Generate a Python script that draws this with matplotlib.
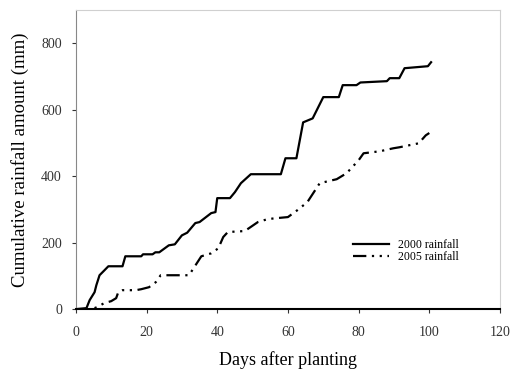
import numpy as np
import matplotlib.pyplot as plt

plt.rcParams['font.family'] = 'Liberation Serif'

####################
# Data
####################
days_2000 = [0, 3, 3.9, 5.3, 5.8, 6.7, 8.1, 9.2, 13.2, 14, 18.5, 19, 21.7, 22.5, 23.6,
             24.5, 26.3, 28, 30, 31.5, 33.8, 35, 38.3, 39.5, 40, 43.6, 45, 46.7, 49.5,
             58, 59.3, 62.4, 64.3, 67, 70, 74.4, 75.5, 79.4, 80.5, 88, 88.8, 91.5, 93,
             99.6, 100.5]
rain_2000 = [0, 3, 27, 51, 72, 102, 117, 129, 129, 159, 159, 165, 165, 171, 171,
             178, 192, 195, 222, 230, 259, 262, 289, 292, 334, 334, 352, 379, 406,
             406, 454, 454, 562, 574, 638, 638, 674, 674, 682, 686, 695, 695, 725,
             731, 743]

days_2005 = [0, 4.5, 6, 8, 10, 11.4, 12, 13.2, 17, 18.5, 20.7, 22.6, 24, 29, 32,
             33.3, 35.5, 38.3, 40.3, 41.7, 43, 47.8, 51.5, 54.3, 57, 60, 62.7, 65.5,
             69, 73.8, 76.6, 80, 81.4, 86, 89.8, 91.5, 97, 99, 100]
rain_2005 = [0, 0, 6, 18, 24, 33, 51, 57, 57, 60, 66, 81, 102, 102, 102,
             123, 159, 168, 183, 217, 232, 235, 262, 271, 274, 277, 298, 322,
             379, 391, 409, 448, 469, 475, 484, 487, 499, 523, 530]

####################
# Plot
####################
fig = plt.figure(figsize=(5.16, 3.72), dpi=100)
ax = fig.add_axes([0.147, 0.169, 0.822, 0.804])

ax.plot(days_2000, rain_2000, color='black', lw=1.6, label='2000 rainfall')
ax.plot(days_2005, rain_2005, color='black', lw=1.6, dashes=(6, 2.5, 1, 2.5, 1, 2.5),
        label='2005 rainfall')

ax.set_xlim(0, 120)
ax.set_ylim(0, 900)
ax.set_xticks(np.arange(0, 121, 20))
ax.set_yticks(np.arange(0, 801, 200))

ax.spines['left'].set_color('#888888')
ax.spines['top'].set_color('#d0d0d0')
ax.spines['right'].set_color('#d0d0d0')
ax.spines['bottom'].set_color('black')
ax.spines['bottom'].set_linewidth(1.5)
ax.tick_params(axis='both', direction='out', length=3, labelsize=10,
               colors='#333333')
ax.tick_params(axis='x', pad=9)
ax.tick_params(axis='y', pad=7)

ax.set_xlabel('Days after planting', fontsize=13, labelpad=9)
ax.set_ylabel('Cumulative rainfall amount (mm)', fontsize=13.5, labelpad=9)

ax.legend(loc='upper left', bbox_to_anchor=(0.64, 0.255), frameon=False,
          fontsize=8.5, handlelength=3.0, labelspacing=0.0, handletextpad=0.8,
          borderpad=0)

plt.savefig('out.png', dpi=100)
